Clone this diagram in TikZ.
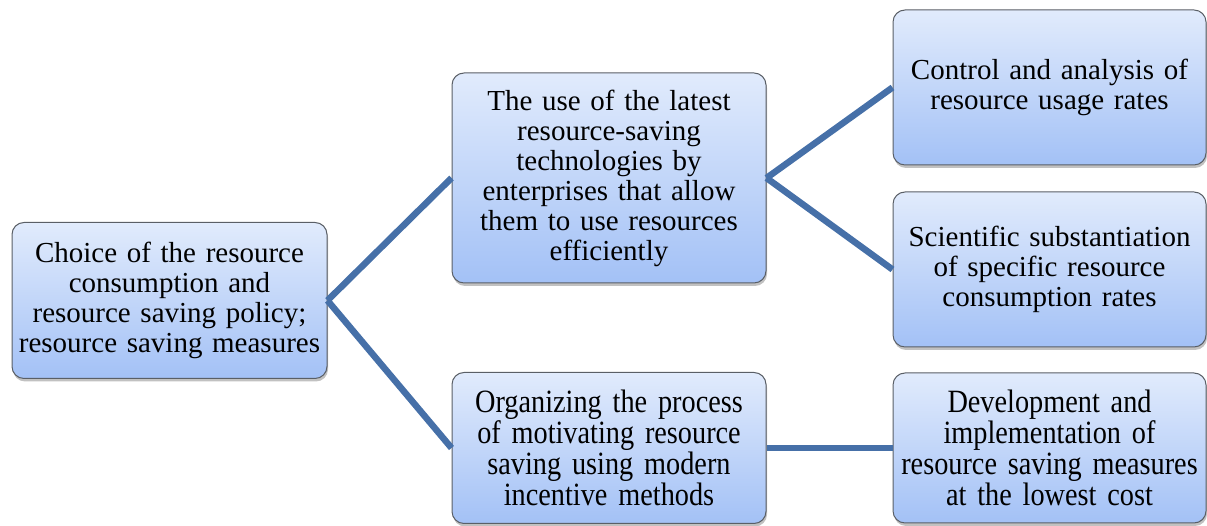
\documentclass[tikz,border=0pt]{standalone}
\usepackage{fontspec}
\setmainfont{Liberation Serif}
\newfontfamily\narrowfont[FakeStretch=0.87]{Liberation Serif}
\usetikzlibrary{shadows}
\definecolor{boxtop}{HTML}{E1EBFC}
\definecolor{boxbot}{HTML}{A3C1F6}
\definecolor{boxline}{HTML}{5A5F66}
\definecolor{connline}{HTML}{4670A8}
\tikzset{
  boxnode/.style={rectangle, rounded corners=12pt, draw=boxline, line width=1pt,
    top color=boxtop, bottom color=boxbot, align=center, inner sep=1pt,
    text width=309pt, font=\fontsize{29}{30}\selectfont,
    drop shadow={shadow xshift=1pt, shadow yshift=-3pt, opacity=0.35, fill=black!70}},
  narrowtext/.style={font=\narrowfont\fontsize{32.5}{31}\selectfont},
  conn/.style={draw=connline, line width=6.5pt}
}
\begin{document}
\begin{tikzpicture}[x=1pt,y=1pt]
\useasboundingbox (0,0) rectangle (1207,526);
\node[boxnode, minimum width=315pt, minimum height=156pt] (root) at (169.5,225.5)
  {Choice of the resource\\consumption and\\resource saving policy;\\resource saving measures};
\node[boxnode, minimum width=314pt, minimum height=210pt] (mt) at (609,348)
  {The use of the latest\\resource-saving\\technologies by\\enterprises that allow\\them to use resources\\efficiently};
\node[boxnode, narrowtext, minimum width=314pt, minimum height=151pt] (mb) at (609,78)
  {Organizing the process\\of motivating resource\\saving using modern\\incentive methods};
\node[boxnode, minimum width=313pt, minimum height=155pt] (r1) at (1049.5,438.5)
  {Control and analysis of\\resource usage rates};
\node[boxnode, minimum width=313pt, minimum height=155pt] (r2) at (1049.5,256.5)
  {Scientific substantiation\\of specific resource\\consumption rates};
\node[boxnode, narrowtext, minimum width=313pt, minimum height=150pt] (r3) at (1049.5,78)
  {Development and\\implementation of\\resource saving measures\\at the lowest cost};
\draw[conn] (root.east) -- (mt.west);
\draw[conn] (root.east) -- (mb.west);
\draw[conn] (mt.east) -- (r1.west);
\draw[conn] (mt.east) -- (r2.west);
\draw[conn] (mb.east) -- (r3.west);
\end{tikzpicture}
\end{document}
